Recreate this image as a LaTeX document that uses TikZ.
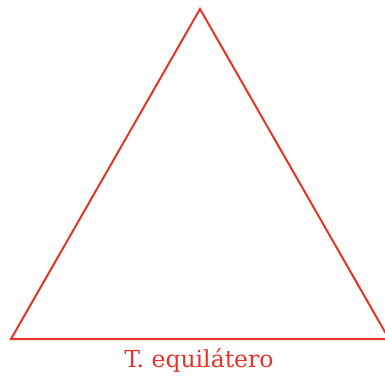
\documentclass[tikz,border=0pt]{standalone}
\usepackage{fontspec}
\newfontfamily\lblfont{DejaVu Serif}
\definecolor{tri}{RGB}{232,52,40}
\begin{document}
\begin{tikzpicture}[x=1pt,y=-1pt,
  edge/.style={draw=tri,line width=2pt,line join=miter},
  lbl/.style={text=tri,font=\lblfont\fontsize{23.5}{27}\selectfont,inner sep=0pt,anchor=base}]
\useasboundingbox (0,0) rectangle (385,377);
\begin{scope}
\clip (0,0) rectangle (385,377);
\coordinate (A) at (200,9);
\coordinate (B) at (11,339);
\coordinate (C) at (389,339);
\draw[edge] (A) -- (B) -- (C) -- cycle;
\end{scope}
\node[lbl] (t) at (199,367) {T. equilátero};
\end{tikzpicture}
\end{document}
